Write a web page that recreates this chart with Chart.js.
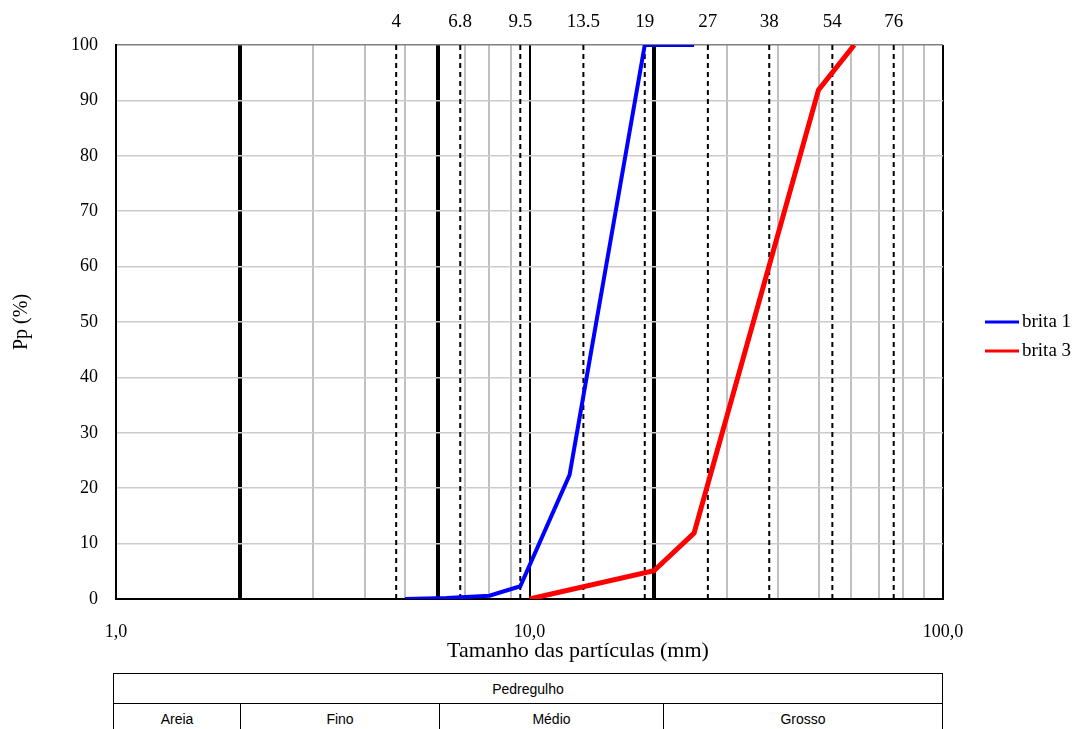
<!DOCTYPE html>
<html lang="pt">
<head>
    <meta charset="UTF-8">
    <title>Curva granulométrica</title>
    <script src="https://cdn.jsdelivr.net/npm/chart.js@4.4.0/dist/chart.umd.min.js"></script>
    <style>
        body {
            margin: 0;
            background: #ffffff;
            font-family: "Liberation Serif", serif;
        }
        .wrap {
            position: relative;
            width: 1080px;
            height: 729px;
            overflow: hidden;
        }
        #chart {
            position: absolute;
            left: 0;
            top: 0;
        }
        table.classes {
            position: absolute;
            left: 113px;
            top: 673px;
            width: 830px;
            border-collapse: collapse;
            font-family: "Liberation Sans Narrow", "Liberation Sans", sans-serif;
            font-size: 14px;
            color: #000;
        }
        table.classes td {
            border: 1.5px solid #000;
            height: 29px;
            padding: 0;
            text-align: center;
        }
    </style>
</head>
<body>
<div class="wrap">
    <canvas id="chart" width="1080" height="665"></canvas>
    <table class="classes">
        <tr><td colspan="4">Pedregulho</td></tr>
        <tr>
            <td style="width:126px">Areia</td>
            <td style="width:198px">Fino</td>
            <td style="width:223px">Médio</td>
            <td>Grosso</td>
        </tr>
    </table>
</div>

<script>
    // peneiras (mm) com linhas tracejadas e rótulo no topo
    const sieveSizes = [4.76, 6.8, 9.5, 13.5, 19, 27, 38, 54, 76];
    const sieveLabels = ['4', '6.8', '9.5', '13.5', '19', '27', '38', '54', '76'];

    // curvas granulométricas
    const brita1Size = [5.0, 6.3, 8.0, 9.5, 12.5, 19, 25];
    const brita1Pass = [0, 0.2, 0.6, 2.3, 22.4, 100, 100];
    const brita3Size = [10, 20, 25, 50, 61];
    const brita3Pass = [0, 5.1, 11.9, 91.9, 100];

    // grade do eixo x (log)
    const xGridValues = [1, 2, 3, 4, 5, 6, 7, 8, 9, 10, 20, 30, 40, 50, 60, 70, 80, 90, 100];
    const xTickLabels = { 1: '1,0', 10: '10,0', 100: '100,0' };
    const boundaryThick = [2, 6, 20];

    const serif = 'Liberation Serif';

    const toPoints = (xs, ys) => xs.map((x, i) => ({ x: x, y: ys[i] }));

    const datasets = [
        {
            label: 'brita 1',
            data: toPoints(brita1Size, brita1Pass),
            borderColor: '#0000ff',
            borderWidth: 4,
            pointRadius: 0,
            tension: 0
        },
        {
            label: 'brita 3',
            data: toPoints(brita3Size, brita3Pass),
            borderColor: '#ff0000',
            borderWidth: 5,
            pointRadius: 0,
            tension: 0
        }
    ];
    sieveSizes.forEach(s => {
        datasets.push({
            label: 'sieve',
            data: [{ x: s, y: 0 }, { x: s, y: 100 }],
            borderColor: '#000000',
            borderWidth: 2,
            borderDash: [5, 4],
            pointRadius: 0
        });
    });

    // rótulos das peneiras, título do eixo x e legenda
    const extras = {
        id: 'extras',
        afterDraw(chart) {
            const ctx = chart.ctx;
            const xs = chart.scales.x;
            ctx.save();
            ctx.fillStyle = '#000';
            ctx.font = '19px "Liberation Serif"';
            ctx.textAlign = 'center';
            ctx.textBaseline = 'middle';
            sieveSizes.forEach((s, i) => {
                ctx.fillText(sieveLabels[i], xs.getPixelForValue(s), 22);
            });

            ctx.font = '22px "Liberation Serif"';
            ctx.fillText('Tamanho das partículas (mm)', 578, 651);

            // legenda
            ctx.font = '19px "Liberation Serif"';
            ctx.textAlign = 'left';
            const items = [datasets[0], datasets[1]];
            items.forEach((d, i) => {
                const y = 322 + i * 29;
                ctx.strokeStyle = d.borderColor;
                ctx.lineWidth = 3;
                ctx.beginPath();
                ctx.moveTo(985, y);
                ctx.lineTo(1019, y);
                ctx.stroke();
                ctx.fillText(d.label, 1022, y);
            });
            ctx.restore();
        }
    };

    new Chart(document.getElementById('chart'), {
        type: 'line',
        data: { datasets: datasets },
        options: {
            responsive: false,
            animation: false,
            layout: { padding: { left: 0, top: 45, right: 137, bottom: 0 } },
            plugins: {
                legend: { display: false },
                tooltip: { enabled: false }
            },
            scales: {
                x: {
                    type: 'logarithmic',
                    min: 1,
                    max: 100,
                    afterBuildTicks(scale) {
                        scale.ticks = xGridValues.map(v => ({ value: v }));
                    },
                    afterFit(scale) { scale.height = 66; },
                    border: { color: '#000', width: 2 },
                    grid: {
                        drawTicks: false,
                        color(ctx) {
                            const v = ctx.tick && ctx.tick.value;
                            if (boundaryThick.includes(v) || v === 10 || v === 100) return '#000';
                            return '#c0c0c0';
                        },
                        lineWidth(ctx) {
                            const v = ctx.tick && ctx.tick.value;
                            if (boundaryThick.includes(v)) return 4;
                            return 2;
                        }
                    },
                    ticks: {
                        autoSkip: false,
                        maxRotation: 0,
                        padding: 22,
                        color: '#000',
                        font: { family: serif, size: 18 },
                        callback: v => xTickLabels[v] || ''
                    }
                },
                y: {
                    min: 0,
                    max: 100,
                    afterFit(scale) { scale.width = 116; },
                    border: { color: '#000', width: 2 },
                    grid: {
                        drawTicks: false,
                        color(ctx) {
                            const v = ctx.tick && ctx.tick.value;
                            return v === 100 ? '#808080' : '#cccccc';
                        },
                        lineWidth: 1.5
                    },
                    ticks: {
                        stepSize: 10,
                        padding: 18,
                        color: '#000',
                        font: { family: serif, size: 18 }
                    },
                    title: {
                        display: true,
                        text: 'Pp (%)',
                        color: '#000',
                        font: { family: serif, size: 20 },
                        padding: { top: 10, bottom: 0 }
                    }
                }
            }
        },
        plugins: [extras]
    });
</script>
</body>
</html>
